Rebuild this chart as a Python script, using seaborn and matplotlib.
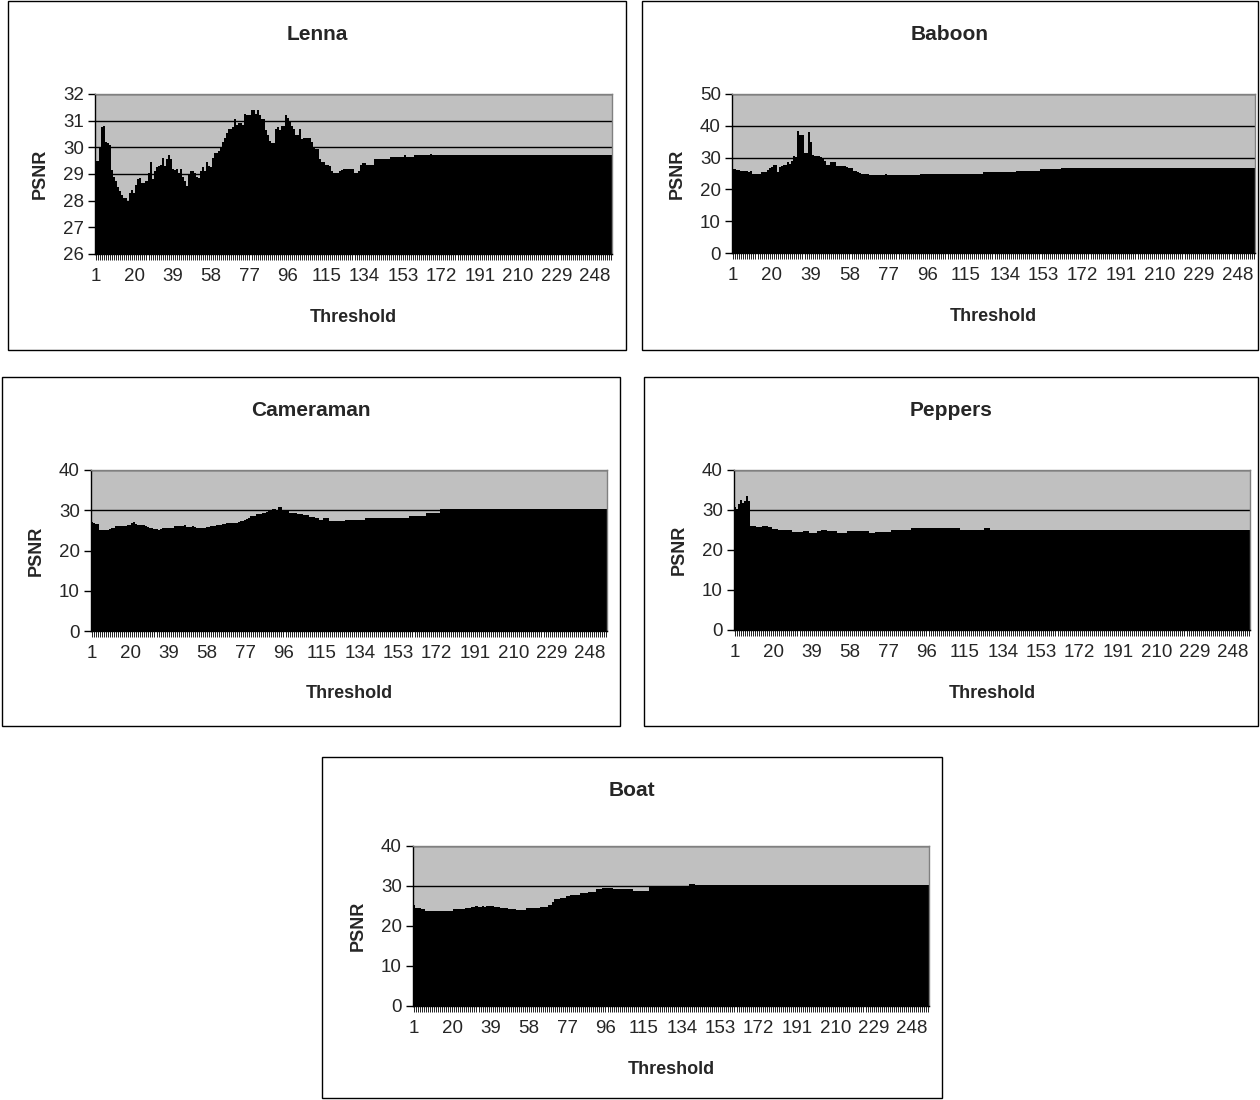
import pandas as pd
import matplotlib
matplotlib.use("Agg")
import matplotlib.pyplot as plt
import seaborn as sns
from matplotlib.patches import Rectangle

# Thresholds 1..256, one bar each
thresholds = list(range(1, 257))
tick_labels = [1, 20, 39, 58, 77, 96, 115, 134, 153, 172, 191, 210, 229, 248]

lenna = [
    29.5, 29.5, 30.0, 30.75, 30.8, 30.2, 30.15, 30.1, 29.15, 28.9, 28.75, 28.5, 28.35, 28.2, 28.1, 28.1,
    28.0, 28.3, 28.4, 28.3, 28.6, 28.8, 28.85, 28.65, 28.65, 28.75, 29.05, 29.45, 28.8, 29.1, 29.25, 29.3,
    29.35, 29.6, 29.3, 29.55, 29.7, 29.55, 29.2, 29.15, 29.2, 29.05, 29.2, 28.9, 28.75, 28.55, 29.0, 29.1,
    29.1, 29.05, 28.9, 28.85, 29.1, 29.25, 29.1, 29.45, 29.3, 29.25, 29.6, 29.8, 29.8, 29.85, 30.0, 30.2,
    30.35, 30.55, 30.7, 30.7, 30.75, 31.05, 30.85, 30.9, 30.9, 30.85, 31.25, 31.2, 31.2, 31.4, 31.4, 31.25,
    31.4, 31.2, 31.05, 31.05, 30.65, 30.45, 30.25, 30.15, 30.15, 30.7, 30.75, 30.65, 30.8, 30.8, 31.2, 31.1,
    30.95, 30.8, 30.7, 30.45, 30.45, 30.7, 30.3, 30.35, 30.35, 30.35, 30.35, 30.2, 30.0, 29.95, 29.95, 29.55,
    29.45, 29.45, 29.35, 29.35, 29.3, 29.1, 29.05, 29.05, 29.05, 29.1, 29.15, 29.2, 29.2, 29.2, 29.2, 29.2,
    29.05, 29.05, 29.1, 29.35, 29.4, 29.4, 29.35, 29.35, 29.35, 29.35, 29.55, 29.55, 29.55, 29.55, 29.55, 29.55,
    29.55, 29.55, 29.65, 29.65, 29.65, 29.65, 29.65, 29.65, 29.65, 29.7, 29.65, 29.65, 29.65, 29.65, 29.7, 29.7,
    29.7, 29.7, 29.7, 29.7, 29.7, 29.7, 29.75, 29.7, 29.7, 29.7, 29.7, 29.7, 29.7, 29.7, 29.7, 29.7,
    29.7, 29.7, 29.7, 29.7, 29.7, 29.7, 29.7, 29.7, 29.7, 29.7, 29.7, 29.7, 29.7, 29.7, 29.7, 29.7,
    29.7, 29.7, 29.7, 29.7, 29.7, 29.7, 29.7, 29.7, 29.7, 29.7, 29.7, 29.7, 29.7, 29.7, 29.7, 29.7,
    29.7, 29.7, 29.7, 29.7, 29.7, 29.7, 29.7, 29.7, 29.7, 29.7, 29.7, 29.7, 29.7, 29.7, 29.7, 29.7,
    29.7, 29.7, 29.7, 29.7, 29.7, 29.7, 29.7, 29.7, 29.7, 29.7, 29.7, 29.7, 29.7, 29.7, 29.7, 29.7,
    29.7, 29.7, 29.7, 29.7, 29.7, 29.7, 29.7, 29.7, 29.7, 29.7, 29.7, 29.7, 29.7, 29.7, 29.7, 29.7,
]

baboon = [
    26.4, 26.3, 26.2, 26.0, 25.8, 25.8, 25.8, 25.8, 25.4, 25.8, 24.8, 24.8, 24.8, 24.8, 25.4, 25.4,
    25.4, 26.2, 26.6, 27.2, 27.7, 27.6, 25.4, 27.2, 27.4, 27.7, 27.7, 28.6, 27.9, 29.0, 30.5, 30.3,
    38.5, 37.1, 37.1, 31.4, 31.4, 38.0, 35.0, 30.9, 30.5, 30.4, 30.4, 30.3, 30.0, 29.0, 27.7, 27.7,
    28.6, 28.6, 28.5, 27.5, 27.4, 27.4, 27.3, 27.3, 26.9, 26.7, 26.6, 25.8, 25.8, 25.4, 25.3, 24.8,
    24.8, 24.8, 24.8, 24.4, 24.4, 24.4, 24.4, 24.4, 24.4, 24.4, 24.4, 24.7, 24.5, 24.5, 24.5, 24.5,
    24.6, 24.6, 24.6, 24.6, 24.4, 24.4, 24.4, 24.4, 24.4, 24.4, 24.4, 24.4, 24.8, 24.8, 24.8, 24.8,
    24.8, 24.8, 24.8, 24.8, 24.8, 24.8, 24.8, 24.8, 24.8, 24.8, 24.8, 24.8, 24.8, 24.8, 24.8, 24.8,
    24.8, 24.8, 24.8, 24.8, 24.8, 24.8, 24.8, 24.8, 24.8, 24.8, 24.8, 25.4, 25.4, 25.4, 25.4, 25.4,
    25.4, 25.4, 25.4, 25.4, 25.4, 25.4, 25.4, 25.4, 25.4, 25.4, 25.4, 25.8, 25.8, 25.8, 25.8, 25.8,
    25.8, 25.8, 25.8, 25.8, 25.8, 25.8, 25.8, 26.3, 26.3, 26.3, 26.3, 26.3, 26.3, 26.3, 26.3, 26.3,
    26.3, 26.7, 26.7, 26.7, 26.7, 26.7, 26.7, 26.7, 26.7, 26.7, 26.7, 26.7, 26.7, 26.7, 26.7, 26.7,
    26.7, 26.7, 26.7, 26.7, 26.7, 26.7, 26.7, 26.7, 26.7, 26.7, 26.7, 26.7, 26.7, 26.7, 26.7, 26.7,
    26.7, 26.7, 26.7, 26.7, 26.7, 26.7, 26.7, 26.7, 26.7, 26.7, 26.7, 26.7, 26.7, 26.7, 26.7, 26.7,
    26.7, 26.7, 26.7, 26.7, 26.7, 26.7, 26.7, 26.7, 26.7, 26.7, 26.7, 26.7, 26.7, 26.7, 26.7, 26.7,
    26.7, 26.7, 26.7, 26.7, 26.7, 26.7, 26.7, 26.7, 26.7, 26.7, 26.7, 26.7, 26.7, 26.7, 26.7, 26.7,
    26.7, 26.7, 26.7, 26.7, 26.7, 26.7, 26.7, 26.7, 26.7, 26.7, 26.7, 26.7, 26.7, 26.7, 26.7, 26.7,
]

cameraman = [
    27.1, 26.9, 26.6, 26.5, 25.2, 25.1, 25.1, 25.0, 25.2, 25.3, 25.5, 25.6, 26.0, 26.1, 26.1, 26.1,
    26.1, 26.2, 26.3, 26.4, 26.8, 27.1, 26.6, 26.4, 26.4, 26.4, 26.3, 26.1, 25.8, 25.7, 25.6, 25.4,
    25.3, 25.2, 25.3, 25.5, 25.6, 25.6, 25.6, 25.6, 25.7, 26.0, 26.0, 26.1, 26.0, 26.1, 26.3, 25.9,
    25.9, 25.8, 26.0, 25.9, 25.7, 25.7, 25.6, 25.7, 25.7, 25.8, 25.9, 26.1, 26.1, 26.2, 26.3, 26.3,
    26.4, 26.6, 26.6, 26.8, 26.8, 26.8, 26.9, 26.9, 26.9, 27.0, 27.3, 27.3, 27.7, 27.8, 28.0, 28.5,
    28.5, 28.6, 29.0, 29.0, 29.1, 29.4, 29.4, 29.5, 29.8, 29.8, 30.4, 30.4, 30.0, 30.7, 30.7, 29.9,
    29.9, 29.7, 29.4, 29.2, 29.3, 29.2, 29.1, 29.0, 29.0, 28.9, 28.8, 28.7, 28.4, 28.3, 28.2, 28.0,
    28.0, 27.6, 27.6, 28.0, 28.0, 28.0, 27.3, 27.3, 27.3, 27.3, 27.3, 27.3, 27.3, 27.3, 27.7, 27.7,
    27.7, 27.7, 27.7, 27.7, 27.7, 27.7, 27.7, 27.7, 28.0, 28.0, 28.0, 28.0, 28.0, 28.0, 28.0, 28.0,
    28.0, 28.0, 28.0, 28.0, 28.0, 28.0, 28.0, 28.0, 28.0, 28.0, 28.0, 28.0, 28.0, 28.0, 28.5, 28.5,
    28.5, 28.5, 28.5, 28.5, 28.5, 28.5, 29.3, 29.3, 29.3, 29.3, 29.3, 29.3, 29.3, 30.4, 30.4, 30.4,
    30.4, 30.4, 30.4, 30.4, 30.4, 30.4, 30.4, 30.4, 30.4, 30.4, 30.4, 30.4, 30.4, 30.4, 30.4, 30.4,
    30.4, 30.4, 30.4, 30.4, 30.4, 30.4, 30.4, 30.4, 30.4, 30.4, 30.4, 30.4, 30.4, 30.4, 30.4, 30.4,
    30.4, 30.4, 30.4, 30.4, 30.4, 30.4, 30.4, 30.4, 30.4, 30.4, 30.4, 30.4, 30.4, 30.4, 30.4, 30.4,
    30.4, 30.4, 30.4, 30.4, 30.4, 30.4, 30.4, 30.4, 30.4, 30.4, 30.4, 30.4, 30.4, 30.4, 30.4, 30.4,
    30.4, 30.4, 30.4, 30.4, 30.4, 30.4, 30.4, 30.4, 30.4, 30.4, 30.4, 30.4, 30.4, 30.4, 30.4, 30.4,
]

peppers = [
    30.8, 30.3, 31.4, 32.6, 31.8, 32.2, 33.5, 32.2, 26.1, 25.9, 25.9, 25.7, 25.7, 25.7, 26.1, 26.1,
    26.1, 25.7, 25.7, 25.3, 25.3, 25.3, 24.9, 24.9, 24.9, 24.9, 24.9, 24.9, 24.9, 24.4, 24.4, 24.4,
    24.4, 24.4, 24.7, 24.7, 24.7, 24.3, 24.3, 24.3, 24.3, 24.7, 24.7, 25.1, 25.1, 25.1, 24.7, 24.7,
    24.7, 24.7, 24.7, 24.3, 24.3, 24.3, 24.3, 24.3, 24.7, 24.7, 24.7, 24.7, 24.7, 24.7, 24.7, 24.7,
    24.7, 24.7, 24.7, 24.3, 24.3, 24.3, 24.6, 24.6, 24.6, 24.6, 24.6, 24.6, 24.6, 24.6, 25.1, 25.1,
    25.1, 25.1, 25.1, 25.1, 25.1, 25.1, 25.1, 25.1, 25.4, 25.4, 25.4, 25.4, 25.4, 25.4, 25.4, 25.4,
    25.4, 25.4, 25.4, 25.4, 25.4, 25.4, 25.4, 25.4, 25.4, 25.4, 25.4, 25.4, 25.4, 25.4, 25.4, 25.4,
    25.1, 25.1, 25.1, 25.1, 25.1, 25.1, 25.1, 25.1, 25.1, 25.1, 25.1, 25.1, 25.4, 25.4, 25.4, 25.0,
    25.0, 25.0, 25.0, 25.0, 25.0, 25.0, 25.0, 25.0, 25.0, 25.0, 25.0, 25.0, 25.0, 25.0, 25.0, 25.0,
    25.0, 25.0, 25.0, 25.0, 25.0, 25.0, 25.0, 25.0, 25.0, 25.0, 25.0, 25.0, 25.0, 25.0, 25.0, 25.0,
    25.0, 25.0, 25.0, 25.0, 25.0, 25.0, 25.0, 25.0, 25.0, 25.0, 25.0, 25.0, 25.0, 25.0, 25.0, 25.0,
    25.0, 25.0, 25.0, 25.0, 25.0, 25.0, 25.0, 25.0, 25.0, 25.0, 25.0, 25.0, 25.0, 25.0, 25.0, 25.0,
    25.0, 25.0, 25.0, 25.0, 25.0, 25.0, 25.0, 25.0, 25.0, 25.0, 25.0, 25.0, 25.0, 25.0, 25.0, 25.0,
    25.0, 25.0, 25.0, 25.0, 25.0, 25.0, 25.0, 25.0, 25.0, 25.0, 25.0, 25.0, 25.0, 25.0, 25.0, 25.0,
    25.0, 25.0, 25.0, 25.0, 25.0, 25.0, 25.0, 25.0, 25.0, 25.0, 25.0, 25.0, 25.0, 25.0, 25.0, 25.0,
    25.0, 25.0, 25.0, 25.0, 25.0, 25.0, 25.0, 25.0, 25.0, 25.0, 25.0, 25.0, 25.0, 25.0, 25.0, 25.0,
]

boat = [
    25.25, 24.4, 24.4, 24.4, 24.2, 24.2, 23.8, 23.8, 23.8, 23.8, 23.8, 23.8, 23.8, 23.8, 23.8, 23.8,
    23.8, 23.8, 23.8, 23.8, 24.2, 24.2, 24.2, 24.2, 24.2, 24.2, 24.4, 24.4, 24.6, 24.7, 24.7, 24.9,
    24.7, 24.8, 24.9, 24.7, 24.9, 24.9, 24.9, 24.9, 24.8, 24.8, 24.7, 24.6, 24.4, 24.4, 24.4, 24.25,
    24.25, 24.25, 24.25, 24.0, 24.0, 24.0, 24.0, 24.0, 24.4, 24.4, 24.4, 24.4, 24.4, 24.4, 24.4, 24.8,
    24.8, 24.8, 24.8, 25.25, 25.25, 26.1, 26.7, 26.7, 26.7, 27.1, 27.1, 27.1, 27.5, 27.5, 27.75, 27.75,
    27.75, 27.75, 27.75, 28.2, 28.2, 28.2, 28.2, 28.6, 28.6, 28.6, 28.6, 29.2, 29.2, 29.2, 29.4, 29.4,
    29.4, 29.4, 29.4, 29.2, 29.2, 29.2, 29.3, 29.3, 29.3, 29.3, 29.3, 29.3, 29.3, 28.8, 28.8, 28.8,
    28.8, 28.8, 28.7, 28.7, 28.7, 29.8, 29.8, 29.8, 29.8, 29.8, 29.8, 29.8, 29.8, 29.8, 29.8, 29.8,
    29.8, 29.8, 29.8, 29.8, 29.8, 29.8, 29.8, 29.8, 29.8, 30.6, 30.6, 30.6, 30.3, 30.3, 30.3, 30.3,
    30.3, 30.3, 30.3, 30.3, 30.3, 30.3, 30.3, 30.3, 30.3, 30.3, 30.3, 30.3, 30.3, 30.3, 30.3, 30.3,
    30.3, 30.3, 30.3, 30.3, 30.3, 30.3, 30.3, 30.3, 30.3, 30.3, 30.3, 30.3, 30.3, 30.3, 30.3, 30.3,
    30.3, 30.3, 30.3, 30.3, 30.3, 30.3, 30.3, 30.3, 30.3, 30.3, 30.3, 30.3, 30.3, 30.3, 30.3, 30.3,
    30.3, 30.3, 30.3, 30.3, 30.3, 30.3, 30.3, 30.3, 30.3, 30.3, 30.3, 30.3, 30.3, 30.3, 30.3, 30.3,
    30.3, 30.3, 30.3, 30.3, 30.3, 30.3, 30.3, 30.3, 30.3, 30.3, 30.3, 30.3, 30.3, 30.3, 30.3, 30.3,
    30.3, 30.3, 30.3, 30.3, 30.3, 30.3, 30.3, 30.3, 30.3, 30.3, 30.3, 30.3, 30.3, 30.3, 30.3, 30.3,
    30.3, 30.3, 30.3, 30.3, 30.3, 30.3, 30.3, 30.3, 30.3, 30.3, 30.3, 30.3, 30.3, 30.3, 30.3, 30.3,
]

sns.set_style("white")
plt.rcParams['font.family'] = ['Liberation Sans', 'DejaVu Sans']

W, H = 1260, 1100
fig = plt.figure(figsize=(W / 100, H / 100), dpi=100)

# panel layout in pixels: chart box (x0, y0, x1, y1), plot area (x0, y0, x1, y1)
panels = [
    ("Lenna", lenna, [26, 27, 28, 29, 30, 31, 32], (8, 1, 626, 350), (95, 94, 612, 254)),
    ("Baboon", baboon, [0, 10, 20, 30, 40, 50], (642, 1, 1258, 350), (732, 94, 1255, 253)),
    ("Cameraman", cameraman, [0, 10, 20, 30, 40], (2, 377, 620, 726), (91, 470, 607, 631)),
    ("Peppers", peppers, [0, 10, 20, 30, 40], (644, 377, 1258, 726), (734, 470, 1250, 630)),
    ("Boat", boat, [0, 10, 20, 30, 40], (322, 757, 942, 1098), (413, 846, 929, 1006)),
]

for title, values, yticks, box, area in panels:
    bx0, by0, bx1, by1 = box
    fig.add_artist(Rectangle((bx0 / W, 1 - by1 / H), (bx1 - bx0) / W, (by1 - by0) / H,
                             transform=fig.transFigure, fill=False, edgecolor='black', linewidth=1))
    ax0, ay0, ax1, ay1 = area
    ax = fig.add_axes([ax0 / W, 1 - ay1 / H, (ax1 - ax0) / W, (ay1 - ay0) / H])

    df = pd.DataFrame({'Threshold': thresholds, 'PSNR': values})
    sns.barplot(data=df, x='Threshold', y='PSNR', color='black', saturation=1,
                width=1.0, linewidth=0, ax=ax)

    ax.set_facecolor('#c0c0c0')
    ax.set_ylim(yticks[0], yticks[-1])
    ax.set_yticks(yticks)
    ax.yaxis.grid(True, color='black', linewidth=1)
    ax.set_axisbelow(True)
    ax.set_xlim(-0.5, len(thresholds) - 0.5)
    ax.set_xticks(range(len(thresholds)))
    ax.set_xticklabels([str(t) if t in tick_labels else '' for t in thresholds])
    ax.tick_params(axis='x', length=4, width=0.7, color='#202020', labelsize=13.5, pad=6, direction='out',
                   bottom=True)
    ax.tick_params(axis='y', length=5, width=1, color='black', labelsize=13.5, pad=3, direction='out',
                   left=True)
    ax.set_xlabel('')
    ax.set_ylabel('')
    for side in ['left', 'bottom']:
        ax.spines[side].set_color('black')
        ax.spines[side].set_linewidth(1)
    for side in ['top', 'right']:
        ax.spines[side].set_color('#808080')
        ax.spines[side].set_linewidth(1)

    cx = (bx0 + bx1) / 2
    fig.text(cx / W, 1 - (by0 + 34) / H, title, ha='center', va='center', fontsize=15, fontweight='bold')
    fig.text((ax0 + ax1) / 2 / W, 1 - (ay1 + 63) / H, 'Threshold', ha='center', va='center',
             fontsize=13, fontweight='bold')
    fig.text((ax0 - 55) / W, 1 - (ay0 + ay1) / 2 / H, 'PSNR', ha='center', va='center',
             rotation=90, fontsize=13, fontweight='bold')

fig.savefig('out.png', dpi=100, facecolor='white')
